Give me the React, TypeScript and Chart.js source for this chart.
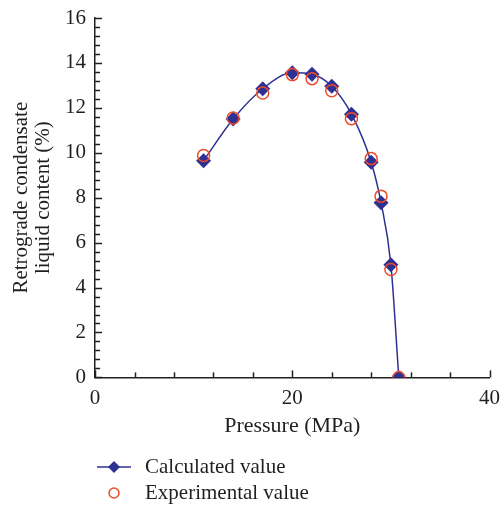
import React, { useEffect, useRef } from "react";
import { Chart, registerables } from "chart.js";
Chart.register(...registerables);

const pressure = [11, 14, 17, 20, 22, 24, 26, 28, 29, 30, 30.8];
const calculated = [9.65, 11.5, 12.85, 13.56, 13.5, 12.96, 11.72, 9.58, 7.78, 5.02, 0];
const experimental = [9.88, 11.55, 12.66, 13.48, 13.3, 12.76, 11.52, 9.74, 8.07, 4.8, 0];
const seriesNames = ["Calculated value", "Experimental value"];
const xTickLabels = [0, 20, 40];
const yTickLabels = [0, 2, 4, 6, 8, 10, 12, 14, 16];

const NAVY = "#2e3192";
const RED = "#ef4a2a";
const INK = "#231f20";
const FONT = "Liberation Serif";

const minorTicks = {
  id: "minorTicks",
  afterDraw(chart: any) {
    const ctx = chart.ctx;
    const x = chart.scales.x;
    const y = chart.scales.y;
    const area = chart.chartArea;
    ctx.save();
    ctx.strokeStyle = INK;
    ctx.lineWidth = 1.5;
    for (let i = 0; i <= 10; i++) {
      const v = i * 4;
      const px = Math.round(x.getPixelForValue(v)) + 0.5;
      const len = xTickLabels.includes(v) ? 7 : 5;
      ctx.beginPath();
      ctx.moveTo(px, area.bottom);
      ctx.lineTo(px, area.bottom - len);
      ctx.stroke();
    }
    for (let i = 0; i <= 40; i++) {
      const v = i * 0.4;
      const py = Math.round(y.getPixelForValue(v)) + 0.5;
      const len = i % 5 === 0 ? 7 : 5;
      ctx.beginPath();
      ctx.moveTo(area.left, py);
      ctx.lineTo(area.left + len, py);
      ctx.stroke();
    }
    ctx.font = `21px "${FONT}"`;
    ctx.textBaseline = "middle";
    ctx.textAlign = "left";
    const ly1 = 467;
    const ly2 = 493;
    ctx.strokeStyle = NAVY;
    ctx.lineWidth = 1.5;
    ctx.beginPath();
    ctx.moveTo(97, ly1);
    ctx.lineTo(131, ly1);
    ctx.stroke();
    ctx.fillStyle = NAVY;
    ctx.beginPath();
    ctx.moveTo(114, ly1 - 6);
    ctx.lineTo(120, ly1);
    ctx.lineTo(114, ly1 + 6);
    ctx.lineTo(108, ly1);
    ctx.closePath();
    ctx.fill();
    ctx.strokeStyle = RED;
    ctx.beginPath();
    ctx.arc(114, ly2, 5, 0, Math.PI * 2);
    ctx.stroke();
    ctx.fillStyle = INK;
    ctx.fillText(seriesNames[0], 145, ly1);
    ctx.fillText(seriesNames[1], 145, ly2);
    ctx.restore();
  },
};

export default function App() {
  const ref = useRef<HTMLCanvasElement | null>(null);
  useEffect(() => {
    if (!ref.current) return;
    const chart = new Chart(ref.current, {
      type: "line",
      data: {
        datasets: [
          {
            label: seriesNames[1],
            data: pressure.map((p, i) => ({ x: p, y: experimental[i] })),
            showLine: false,
            pointStyle: "circle",
            pointRadius: 6,
            pointBorderWidth: 1.5,
            pointBorderColor: RED,
            pointBackgroundColor: "rgba(0,0,0,0)",
            borderColor: RED,
            order: 0,
          },
          {
            label: seriesNames[0],
            data: pressure.map((p, i) => ({ x: p, y: calculated[i] })),
            borderColor: NAVY,
            borderWidth: 1.5,
            cubicInterpolationMode: "monotone",
            pointStyle: "rectRot",
            pointRadius: 7.5,
            pointBorderWidth: 0,
            pointBackgroundColor: NAVY,
            pointBorderColor: NAVY,
            order: 1,
          },
        ],
      },
      options: {
        animation: false,
        responsive: true,
        maintainAspectRatio: false,
        layout: { padding: { left: 10, right: 0, top: 18, bottom: 66 } },
        plugins: { legend: { display: false }, tooltip: { enabled: false } },
        scales: {
          x: {
            type: "linear",
            min: 0,
            max: 40,
            grid: { display: false },
            border: { display: true, color: INK, width: 1.5 },
            ticks: {
              stepSize: 20,
              padding: 0,
              color: INK,
              font: { family: FONT, size: 21 },
              callback: (v: any) => (xTickLabels.includes(Number(v)) ? String(v) : ""),
            },
            title: {
              display: true,
              text: "Pressure (MPa)",
              color: INK,
              font: { family: FONT, size: 22 },
              padding: { top: 2, bottom: 0 },
            },
          },
          y: {
            type: "linear",
            min: 0,
            max: 16,
            grid: { display: false },
            border: { display: true, color: INK, width: 1.5 },
            ticks: {
              stepSize: 2,
              padding: 1,
              color: INK,
              font: { family: FONT, size: 21 },
              callback: (v: any) => (yTickLabels.includes(Number(v)) ? String(v) : ""),
            },
            title: {
              display: true,
              text: ["Retrograde condensate", "liquid content (%)"],
              color: INK,
              font: { family: FONT, size: 21, lineHeight: 1.05 },
              padding: { top: 0, bottom: 10 },
            },
          },
        },
      },
      plugins: [minorTicks],
    });
    return () => chart.destroy();
  }, []);
  return (
    <div style={{ position: "fixed", left: 0, top: 0, width: 500, height: 505, background: "#fff" }}>
      <canvas ref={ref} />
    </div>
  );
}
